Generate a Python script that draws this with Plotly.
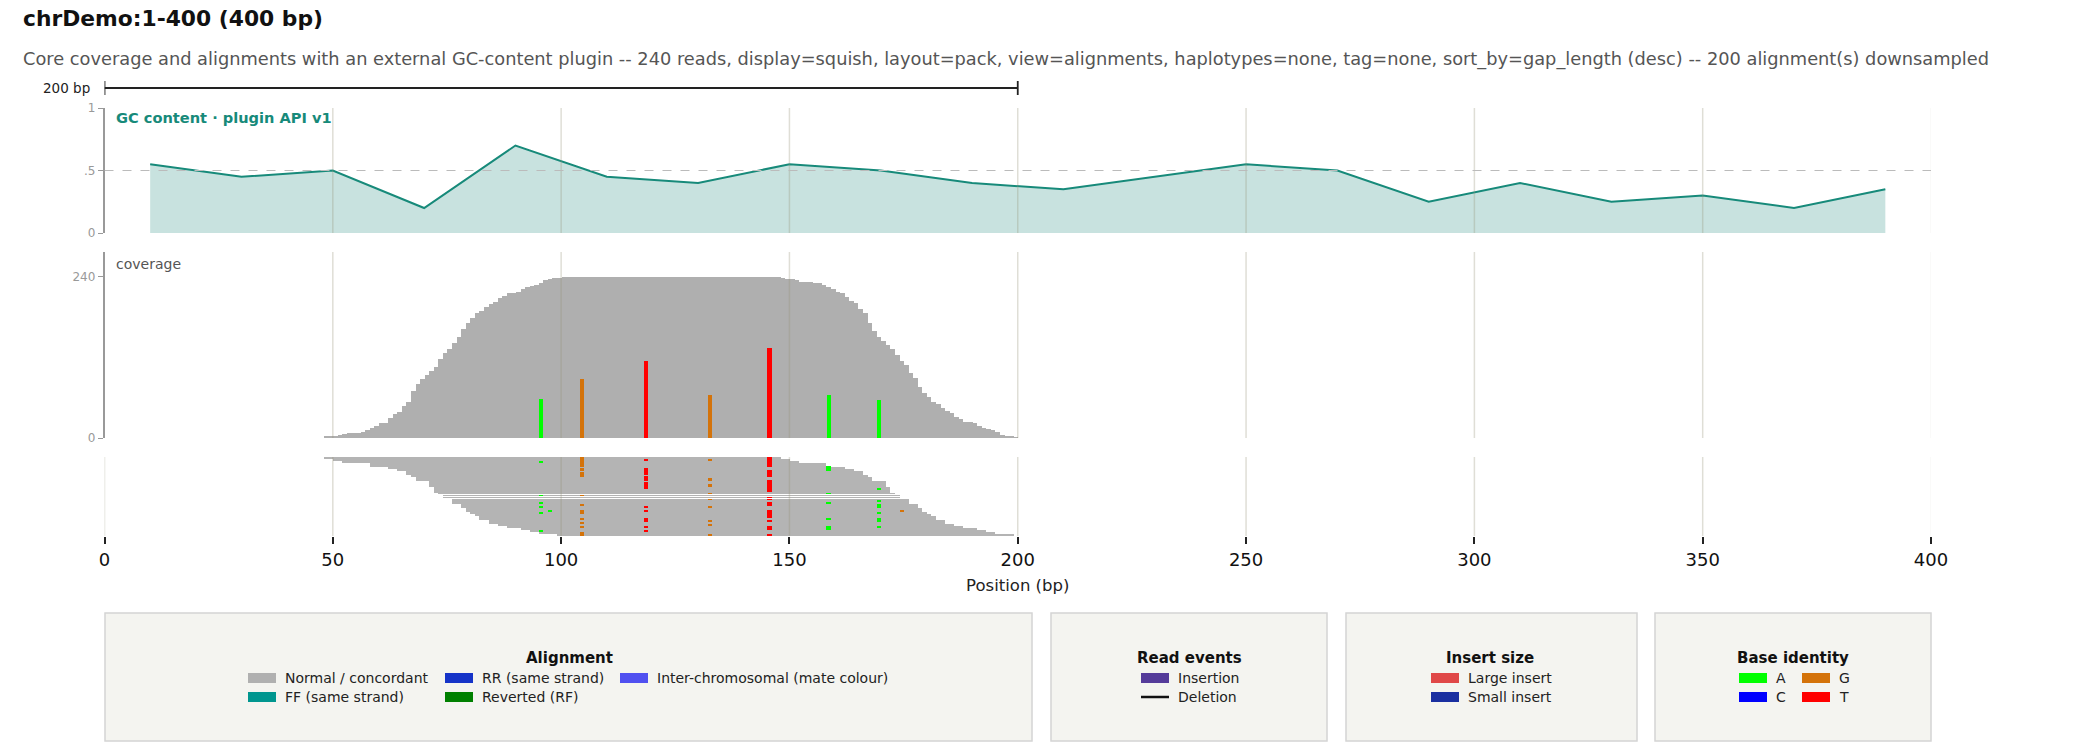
import plotly.graph_objects as go

# ---- data ----
gc_pos = [10, 30, 50, 70, 90, 110, 130, 150, 170, 190, 210, 230, 250, 270, 290, 310, 330, 350, 370, 390]
gc_frac = [0.55, 0.45, 0.50, 0.20, 0.70, 0.45, 0.40, 0.55, 0.50, 0.40,
           0.35, 0.45, 0.55, 0.50, 0.25, 0.40, 0.25, 0.30, 0.20, 0.35]

cov_pos = list(range(48, 200))
cov_depth = [
    2, 2, 3, 5, 6, 7, 8, 8, 9, 12,                          # 48-57
    15, 18, 22, 23, 30, 36, 39, 48, 54, 70,                 # 58-67
    80, 88, 94, 100, 106, 117, 126, 132, 142, 150,          # 68-77
    163, 172, 178, 186, 189, 195, 200, 202, 208, 211,       # 78-87
    216, 216, 217, 222, 225, 226, 228, 231, 235, 237,       # 88-97
    238, 239, 240, 240, 240, 240, 240, 240, 240, 240,       # 98-107
    240, 240, 240, 240, 240, 240, 240, 240, 240, 240,       # 108-117
    240, 240, 240, 240, 240, 240, 240, 240, 240, 240,       # 118-127
    240, 240, 240, 240, 240, 240, 240, 240, 240, 240,       # 128-137
    240, 240, 240, 240, 240, 240, 240, 240, 240, 240,       # 138-147
    238, 237, 237, 235, 233, 232, 232, 231, 231, 228,       # 148-157
    225, 222, 217, 216, 210, 204, 201, 192, 186, 171,       # 158-167
    160, 151, 145, 139, 133, 123, 114, 108, 97, 90,         # 168-177
    76, 67, 61, 54, 51, 45, 40, 37, 31, 28,                 # 178-187
    24, 24, 22, 18, 15, 13, 12, 9, 4, 3,                    # 188-197
    2, 1,                                                   # 198-199
]

mm_pos = [95, 104, 118, 132, 145, 158, 169]
mm_base = ["A", "G", "T", "G", "T", "A", "A"]
mm_count = [58, 88, 115, 64, 134, 64, 57]

read_start = [48, 50, 52, 58, 58, 62, 64, 66, 66, 67, 68, 68, 71, 71, 71, 72, 72, 72,
              73, 74, 74, 76,
              76, 76, 78, 78, 79, 79, 80, 81, 82, 82, 84, 84, 86, 88, 91, 93, 95, 99]
read_end = [148, 150, 152, 158, 158, 162, 164, 166, 166, 167, 168, 168, 171, 171, 171, 172, 172, 172,
            173, 174, 174, 176,
            176, 176, 178, 178, 179, 179, 180, 181, 182, 182, 184, 184, 186, 188, 191, 193, 195, 199]
thin_rows = [18, 19, 20, 21]

read_mm_pos = [95, 97, 104, 118, 132, 145, 158, 169, 174]
read_mm_base = ["A", "A", "G", "T", "G", "T", "A", "A", "G"]
read_mm_rows = [
    [2, 19, 23, 25, 28, 37],
    [27],
    [0, 1, 2, 3, 4, 6, 8, 9, 19, 24, 27, 28, 31, 33, 35, 38, 39],
    [1, 6, 7, 8, 10, 11, 13, 14, 15, 25, 27, 31, 32, 35, 37],
    [1, 11, 14, 18, 21, 25, 32, 34, 39],
    [0, 1, 2, 3, 4, 7, 8, 9, 12, 13, 14, 15, 16, 17, 20, 21, 23, 24, 27, 28, 29, 30, 32, 35, 36, 39],
    [5, 6, 18, 23, 31, 35, 36],
    [16, 22, 24, 25, 28, 31, 32, 35],
    [27],
]

x_ticks = [0, 50, 100, 150, 200, 250, 300, 350, 400]

base_colors = {"A": "#00ff00", "C": "#0000ff", "G": "#d4730a", "T": "#ff0000"}
TEAL = "#178a7a"
FONT = "DejaVu Sans"

W, H = 2100, 748


def fx(px):
    return px / W


def fy(py):
    return 1 - py / H


fig = go.Figure()

# GC content plugin track
fig.add_trace(go.Scatter(
    x=gc_pos, y=gc_frac, mode="lines", fill="tozeroy",
    fillcolor="rgba(23,135,120,0.24)", line=dict(color=TEAL, width=2),
    xaxis="x", yaxis="y", hoverinfo="skip",
))

# coverage histogram
fig.add_trace(go.Bar(
    x=cov_pos, y=cov_depth, width=1, offset=0,
    marker=dict(color="#afafaf", line=dict(width=0)),
    xaxis="x2", yaxis="y2",
))
for b in ["A", "G", "T"]:
    xs = [p for p, bb in zip(mm_pos, mm_base) if bb == b]
    ys = [c for c, bb in zip(mm_count, mm_base) if bb == b]
    fig.add_trace(go.Bar(
        x=xs, y=ys, width=0.95, offset=0.02,
        marker=dict(color=base_colors[b], line=dict(width=0)),
        xaxis="x2", yaxis="y2",
    ))

# alignments (squish)
rows = list(range(len(read_start)))
normal = [r for r in rows if r not in thin_rows]
for sel, w in [(normal, 1.04), (thin_rows, 0.45)]:
    fig.add_trace(go.Bar(
        orientation="h", y=sel,
        x=[read_end[r] - read_start[r] for r in sel],
        base=[read_start[r] for r in sel], width=w,
        marker=dict(color="#b4b4b4", line=dict(width=0)),
        xaxis="x3", yaxis="y3",
    ))

for b in ["A", "G", "T"]:
    for thin in (False, True):
        ys, bs = [], []
        for p, bb, rr in zip(read_mm_pos, read_mm_base, read_mm_rows):
            if bb != b:
                continue
            for r in rr:
                if (r in thin_rows) == thin:
                    ys.append(r)
                    bs.append(p)
        if not ys:
            continue
        fig.add_trace(go.Bar(
            orientation="h", y=ys, x=[1] * len(ys), base=bs,
            width=0.45 if thin else 0.9,
            marker=dict(color=base_colors[b], line=dict(width=0)),
            xaxis="x3", yaxis="y3",
        ))

fig.update_traces(showlegend=False)

xdom = [fx(104.5), fx(1931)]
hidden_x = dict(domain=xdom, range=[0, 400], showgrid=False, zeroline=False, automargin=False,
                showticklabels=False, ticks="", showline=False)

fig.update_layout(
    width=W, height=H,
    margin=dict(l=0, r=0, t=0, b=0, autoexpand=False),
    paper_bgcolor="white", plot_bgcolor="rgba(0,0,0,0)",
    barmode="overlay", bargap=0,
    font=dict(family=FONT, color="#222"),
    showlegend=False,
    xaxis=dict(hidden_x, anchor="y"),
    xaxis2=dict(hidden_x, anchor="y2"),
    xaxis3=dict(
        domain=xdom, range=[0, 400], anchor="y3", showgrid=False, zeroline=False,
        automargin=False,
        showline=False, tickvals=x_ticks, ticks="outside", ticklen=7, tickwidth=2,
        tickcolor="#222", tickfont=dict(size=18, color="#111"),
        title=dict(text="Position (bp)", font=dict(size=16.5, color="#222"), standoff=10),
    ),
    yaxis=dict(
        domain=[fy(233), fy(108)], range=[0, 1], anchor="x", automargin=False,
        tickvals=[0, 0.5, 1], ticktext=["0", ".5", "1"], ticks="outside", ticklen=5,
        tickcolor="#999", showline=True, linecolor="#999", linewidth=1.5,
        showgrid=False, zeroline=False, tickfont=dict(size=12, color="#999"),
    ),
    yaxis2=dict(
        domain=[fy(438), fy(252)], range=[0, 277], anchor="x2", automargin=False,
        tickvals=[0, 240], ticks="outside", ticklen=5, tickcolor="#999",
        showline=True, linecolor="#999", linewidth=1.5,
        showgrid=False, zeroline=False, tickfont=dict(size=12, color="#999"),
    ),
    yaxis3=dict(
        domain=[fy(536), fy(457)], range=[39.5, -0.5], anchor="x3", automargin=False,
        showticklabels=False, ticks="", showline=False, showgrid=False, zeroline=False,
    ),
)

shapes = []
# vertical grid lines, drawn over the tracks
for xref, yref, skip0 in [("x", "y domain", True), ("x2", "y2 domain", True), ("x3", "y3 domain", False)]:
    for xv in x_ticks:
        if xv == 0 and skip0:
            continue
        alpha = 0.06 if xv == 400 else 0.3
        shapes.append(dict(type="line", xref=xref, yref=yref, x0=xv, x1=xv, y0=0, y1=1,
                           line=dict(color=f"rgba(150,145,120,{alpha})", width=1.5), layer="above"))
# GC 0.5 reference
shapes.append(dict(type="line", xref="x", yref="y", x0=0, x1=400, y0=0.5, y1=0.5,
                   line=dict(color="#bbbbbb", width=1, dash="dash"), layer="above"))
# 200 bp scale bar
sb_y = fy(88)
shapes.append(dict(type="line", xref="x", yref="paper", x0=0, x1=200, y0=sb_y, y1=sb_y,
                   line=dict(color="#222", width=1.8)))
for xv in (0, 200):
    shapes.append(dict(type="line", xref="x", yref="paper", x0=xv, x1=xv, y0=fy(81), y1=fy(95),
                       line=dict(color="#222", width=1.8)))

# legend boxes
boxes = [(105, 1032), (1051, 1327), (1346, 1637), (1655, 1931)]
for x0, x1 in boxes:
    shapes.append(dict(type="rect", xref="paper", yref="paper", x0=fx(x0), x1=fx(x1),
                       y0=fy(741), y1=fy(613), fillcolor="#f4f4f0",
                       line=dict(color="#d4d4d4", width=1.5), layer="below"))

annotations = [
    dict(text="<b>chrDemo:1-400 (400 bp)</b>", x=fx(21), y=fy(19), xanchor="left", yanchor="middle",
         font=dict(size=21.8, color="#111")),
    dict(text="Core coverage and alignments with an external GC-content plugin -- 240 reads, "
              "display=squish, layout=pack, view=alignments, haplotypes=none, tag=none, "
              "sort_by=gap_length (desc) -- 200 alignment(s) downsampled",
         x=fx(21), y=fy(59), xanchor="left", yanchor="middle", font=dict(size=17.8, color="#555")),
    dict(text="200 bp", x=fx(92), y=fy(88), xanchor="right", yanchor="middle",
         font=dict(size=13.5, color="#222")),
    dict(text="<b>GC content · plugin API v1</b>", x=fx(114), y=fy(118), xanchor="left",
         yanchor="middle", font=dict(size=14.6, color=TEAL)),
    dict(text="coverage", x=fx(114), y=fy(264), xanchor="left", yanchor="middle",
         font=dict(size=14, color="#555")),
]

ROW1, ROW2 = 678, 697


def legend_title(text, cx):
    annotations.append(dict(text=f"<b>{text}</b>", x=fx(cx), y=fy(658), xanchor="center",
                            yanchor="middle", font=dict(size=15, color="#111")))


def swatch(x0, yrow, color, label):
    shapes.append(dict(type="rect", xref="paper", yref="paper", x0=fx(x0), x1=fx(x0 + 28),
                       y0=fy(yrow + 5), y1=fy(yrow - 5), fillcolor=color, line=dict(width=0)))
    annotations.append(dict(text=label, x=fx(x0 + 35), y=fy(yrow), xanchor="left", yanchor="middle",
                            font=dict(size=14, color="#222")))


legend_title("Alignment", 569)
swatch(248, ROW1, "#b0b0b0", "Normal / concordant")
swatch(248, ROW2, "#00968f", "FF (same strand)")
swatch(445, ROW1, "#1533c8", "RR (same strand)")
swatch(445, ROW2, "#008000", "Reverted (RF)")
swatch(620, ROW1, "#5050f0", "Inter-chromosomal (mate colour)")

legend_title("Read events", 1189)
swatch(1141, ROW1, "#553c9a", "Insertion")
shapes.append(dict(type="line", xref="paper", yref="paper", x0=fx(1141), x1=fx(1169),
                   y0=fy(ROW2), y1=fy(ROW2), line=dict(color="#111", width=2.5)))
annotations.append(dict(text="Deletion", x=fx(1176), y=fy(ROW2), xanchor="left", yanchor="middle",
                        font=dict(size=14, color="#222")))

legend_title("Insert size", 1490)
swatch(1431, ROW1, "#e04848", "Large insert")
swatch(1431, ROW2, "#1a2fa0", "Small insert")

legend_title("Base identity", 1793)
swatch(1739, ROW1, base_colors["A"], "A")
swatch(1802, ROW1, base_colors["G"], "G")
swatch(1739, ROW2, base_colors["C"], "C")
swatch(1802, ROW2, base_colors["T"], "T")

for a in annotations:
    a.setdefault("xref", "paper")
    a.setdefault("yref", "paper")
    a.setdefault("showarrow", False)

fig.update_layout(shapes=shapes, annotations=annotations)

# the figure fills the whole window, so drop the page's default body margin
fig.write_html("out.html", config={"displayModeBar": False},
               post_script="document.body.style.margin = '0';")
